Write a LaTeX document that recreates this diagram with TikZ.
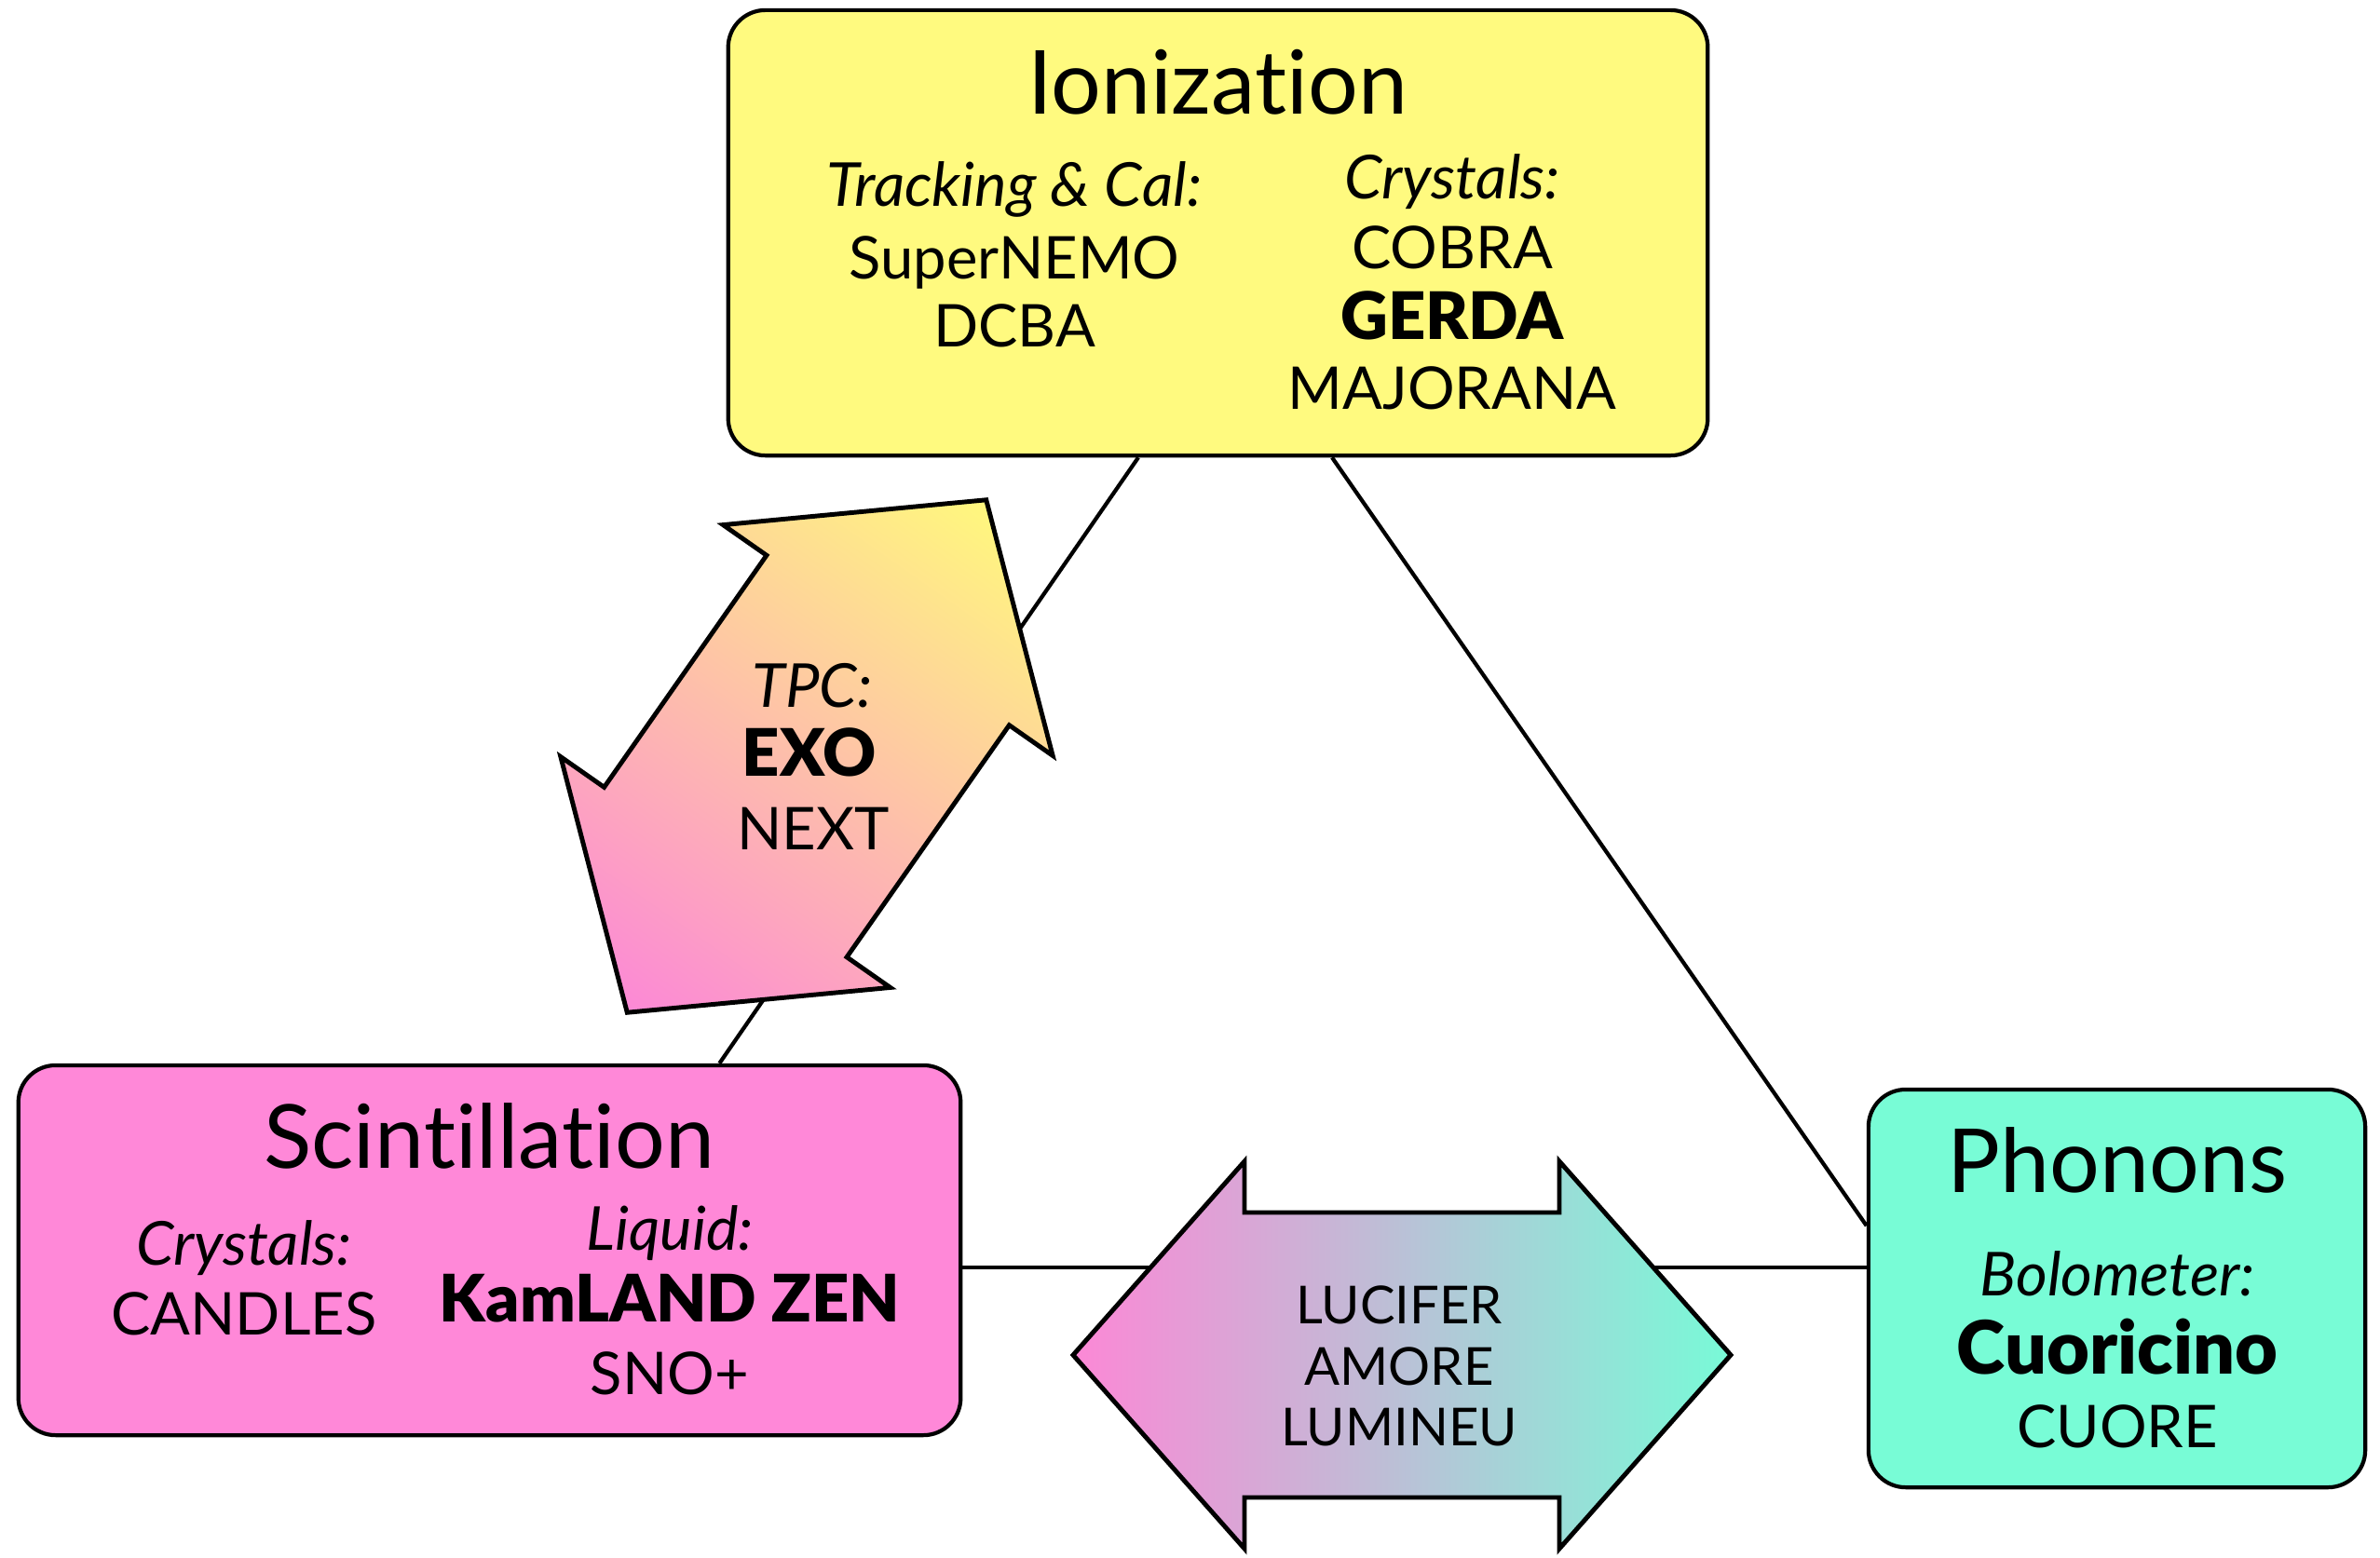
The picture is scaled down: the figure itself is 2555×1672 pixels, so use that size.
\documentclass[tikz,border=0pt]{standalone}
\usepackage{fontspec}
\setmainfont{Lato}[BoldFont={Lato Black}, Ligatures=NoCommon]
\usetikzlibrary{calc,backgrounds}
\definecolor{ionc}{RGB}{255,250,127}
\definecolor{scic}{RGB}{255,136,216}
\definecolor{phoc}{RGB}{120,252,214}
\definecolor{gpink}{RGB}{252,136,214}
\definecolor{gyell}{RGB}{255,248,125}
\definecolor{gmint}{RGB}{120,250,215}
\begin{document}
\begin{tikzpicture}[x=0.01cm,y=0.01cm,
  box/.style={draw=black, line width=1.2pt, rounded corners=0.4cm, inner sep=0pt},
  conn/.style={line width=1.2pt},
  arr/.style={draw=black, line width=1.4pt, line join=miter},
  txt/.style={anchor=base, inner sep=0pt, font=\fontsize{18}{21}\selectfont},
  itx/.style={anchor=base, inner sep=0pt, font=\fontsize{18.5}{21}\selectfont\itshape},
  bld/.style={anchor=base, inner sep=0pt, font=\fontsize{20}{24}\selectfont\bfseries},
  ttl/.style={anchor=base, inner sep=0pt, font=\fontsize{27}{32}\selectfont},
  sml/.style={anchor=base, inner sep=0pt, font=\fontsize{16}{19}\selectfont}]
\useasboundingbox (0,0) rectangle (2555,-1672);

% boxes
\node[box, fill=ionc, minimum width=10.51cm, minimum height=4.78cm] (ion) at (1307.5,-250) {};
\node[box, fill=scic, minimum width=10.11cm, minimum height=3.97cm] (sci) at (525.5,-1342.5) {};
\node[box, fill=phoc, minimum width=5.33cm, minimum height=4.27cm] (pho) at (2272.5,-1383.5) {};

% connectors behind
\begin{scope}[on background layer]
\coordinate (hl) at ($(pho.north west)!0.447!(pho.south west)$);
\draw[conn] ($(ion.south west)!0.419!(ion.south east)$) -- ($(sci.north west)!0.743!(sci.north east)$);
\draw[conn] ($(ion.south west)!0.616!(ion.south east)$) -- ($(pho.north west)!0.344!(pho.south west)$);
\draw[conn] (sci.east |- hl) -- (hl);
\end{scope}

% diagonal double arrow
\begin{scope}[transform canvas={shift={(866,-812)}, rotate=55}]
\shadedraw[arr, left color=gpink, right color=gyell]
  (-336,0) -- (-152,216) -- (-152,159) -- (152,159) -- (152,216) -- (336,0)
  -- (152,-216) -- (152,-159) -- (-152,-159) -- (-152,-216) -- cycle;
\end{scope}

% horizontal double arrow
\shadedraw[arr, left color=gpink, right color=gmint]
  (1152,-1455) -- (1336,-1247) -- (1336,-1302) -- (1674,-1302) -- (1674,-1247)
  -- (1858,-1455) -- (1674,-1663) -- (1674,-1608) -- (1336,-1608) -- (1336,-1663) -- cycle;

% Ionization texts
\node[ttl] (ionT) at (1307,-122) {Ionization};
\node[itx] (ionA) at (1089,-221) {Tracking \& Cal:};
\node[txt] (ionB) at (1089,-299) {SuperNEMO};
\node[txt] (ionC) at (1089,-372) {DCBA};
\node[itx] (ionD) at (1559,-213) {Crystals:};
\node[txt] (ionE) at (1559,-288) {COBRA};
\node[bld] (ionF) at (1559,-364) {GERDA};
\node[txt] (ionG) at (1559,-439) {MAJORANA};

% Scintillation texts
\node[ttl] (sciT) at (525,-1254) {Scintillation};
\node[itx] (sciA) at (262,-1358) {Crystals:};
\node[txt] (sciB) at (262,-1433) {CANDLES};
\node[itx] (sciC) at (719,-1342) {Liquid:};
\node[bld] (sciD) at (719,-1419) {KamLAND ZEN};
\node[txt] (sciE) at (719,-1497) {SNO+};

% Phonons texts
\node[ttl] (phoT) at (2273,-1280) {Phonons};
\node[itx] (phoA) at (2273,-1391) {Bolometer:};
\node[anchor=base, inner sep=0pt, font=\fontsize{22.5}{27}\selectfont\bfseries] (phoB) at (2273,-1475) {Cuoricino};
\node[txt] (phoC) at (2273,-1554) {CUORE};

% TPC arrow texts
\node[itx] (tpcA) at (872,-759) {TPC:};
\node[bld] (tpcB) at (869,-833) {EXO};
\node[txt] (tpcC) at (873,-912) {NEXT};

% horizontal arrow texts
\node[sml] (hA) at (1502,-1421) {LUCIFER};
\node[sml] (hB) at (1502,-1487) {AMORE};
\node[sml] (hC) at (1502,-1552) {LUMINEU};
\end{tikzpicture}
\end{document}
